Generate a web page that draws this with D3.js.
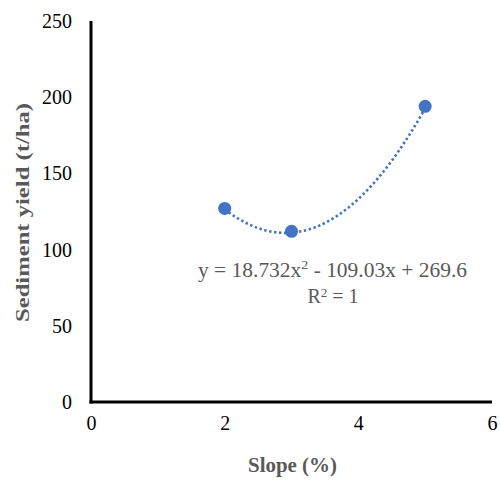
<!DOCTYPE html>
<html><head><meta charset="utf-8">
<script src="https://cdn.jsdelivr.net/npm/d3@7"></script>
<style>body{margin:0;background:#fff}svg{display:block}</style>
</head><body>
<svg id="c" width="500" height="481"></svg>
<script>
const slope = [2, 3, 5];
const sediment = [127, 112, 194];
const fitCoef = [18.732, -109.03, 269.6];
const xTicks = [0, 2, 4, 6];
const yTicks = [0, 50, 100, 150, 200, 250];
const eqText = "y = 18.732x";
const eqRest = " - 109.03x + 269.6";

const svg = d3.select("#c");
const x = d3.scaleLinear().domain([0, 6]).range([91, 492]);
const y = d3.scaleLinear().domain([0, 250]).range([402, 21]);
const font = "'Liberation Serif', 'Times New Roman', serif";

// axes
const xa = svg.append("g").attr("transform", "translate(0,402)")
  .call(d3.axisBottom(x).tickValues(xTicks).tickFormat(d3.format("d")).tickSize(0).tickPadding(14));
const ya = svg.append("g").attr("transform", "translate(91,0)")
  .call(d3.axisLeft(y).tickValues(yTicks).tickFormat(d3.format("d")).tickSize(0).tickPadding(19));
[xa, ya].forEach(g => {
  g.select(".domain").attr("stroke", "#000").attr("stroke-width", 3);
  g.selectAll("text").attr("font-family", font).attr("font-size", 20).attr("fill", "#000");
});
xa.select(".domain").attr("d", `M${x(0)-1.5},0H${x(6)}`);
ya.select(".domain").attr("d", `M0,${y(0)+1.5}V${y(250)}`);

// trendline
const xs = d3.range(2, 5.0001, 0.05);
const f = t => fitCoef[0]*t*t + fitCoef[1]*t + fitCoef[2];
svg.append("path")
  .attr("d", d3.line().x(d => x(d)).y(d => y(f(d))).curve(d3.curveBasis)(xs))
  .attr("fill", "none").attr("stroke", "#4472C4").attr("stroke-width", 2.6)
  .attr("stroke-dasharray", "2.4 2.6");

// points
svg.selectAll("circle").data(slope).join("circle")
  .attr("cx", (d) => x(d)).attr("cy", (d, i) => y(sediment[i])).attr("r", 6.5)
  .attr("fill", "#4472C4");

// equation
const eq = svg.append("text").attr("x", 198).attr("y", 277)
  .attr("textLength", 269).attr("lengthAdjust", "spacingAndGlyphs")
  .attr("font-family", font).attr("font-size", 20).attr("fill", "#595959");
eq.append("tspan").text(eqText);
eq.append("tspan").attr("dy", -8).attr("font-size", 13).text("2");
eq.append("tspan").attr("dy", 8).text(eqRest);
const r2 = svg.append("text").attr("x", 333).attr("y", 303).attr("text-anchor", "middle")
  .attr("font-family", font).attr("font-size", 20).attr("fill", "#595959");
r2.append("tspan").text("R");
r2.append("tspan").attr("dy", -6).attr("font-size", 13).text("2");
r2.append("tspan").attr("dy", 6).text(" = 1");

// axis titles
svg.append("text").attr("x", 248).attr("y", 472)
  .attr("textLength", 89).attr("lengthAdjust", "spacingAndGlyphs")
  .attr("font-family", font).attr("font-size", 20).attr("font-weight", "bold")
  .attr("fill", "#595959").text("Slope (%)");
svg.append("text").attr("transform", "translate(29,322) rotate(-90)")
  .attr("textLength", 219).attr("lengthAdjust", "spacingAndGlyphs")
  .attr("font-family", font).attr("font-size", 19).attr("font-weight", "bold")
  .attr("fill", "#595959").text("Sediment yield (t/ha)");
</script>
</body></html>
